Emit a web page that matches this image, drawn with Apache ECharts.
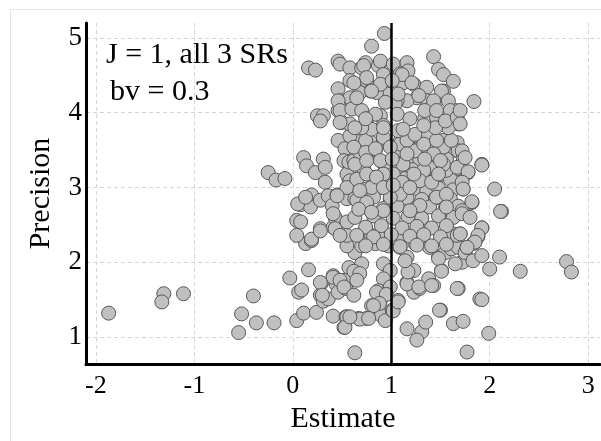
<!DOCTYPE html>
<html>
<head>
<meta charset="utf-8">
<script src="https://cdn.jsdelivr.net/npm/echarts@6/dist/echarts.min.js"></script>
<style>html,body{margin:0;padding:0;background:#fff;}#c{width:601px;height:441px;}</style>
</head>
<body>
<div id="c"></div>
<script>
// Tick labels
const xTicks = [-2, -1, 0, 1, 2, 3];
const yTicks = [1, 2, 3, 4, 5];
const trueEffect = 1;
const annotationLines = ['J = 1, all 3 SRs', 'bv = 0.3'];

// [estimate, precision] pairs
const leftTail = [
  [-1.87,1.32],[-1.31,1.58],[-1.33,1.47],[-1.11,1.58],[-0.40,1.55],[-0.52,1.31],[-0.37,1.19],
  [-0.55,1.06],[-0.19,1.19],[-0.25,3.20],[-0.17,3.10],[-0.08,3.12],[-0.03,1.79]
];
const lowBand = [
  [0.06,1.60],[0.09,1.63],[0.04,1.22],[0.11,1.32],[0.16,1.90],[0.24,1.33],[0.29,1.72],[0.28,1.56],
  [0.31,1.48],[0.36,1.51],[0.41,1.82],[0.44,1.71],[0.46,1.60],[0.52,1.76],[0.54,1.65],[0.41,1.28],
  [0.54,1.27],[0.52,1.13],[0.63,0.79],[0.57,1.93],[0.63,2.13],[0.70,2.22],[0.84,2.25],[0.97,2.22],
  [1.09,2.20],[0.70,1.98],[0.62,1.88],[0.68,1.85],[0.41,1.80],[0.28,1.73],[0.48,1.76],[0.52,1.67],
  [0.30,1.56],[0.62,1.56],[0.55,1.27],[0.53,1.13],[0.67,1.25],[0.75,1.25],[0.80,1.42],[0.89,1.49],
  [0.92,1.98],[0.99,1.89],[0.92,1.78],[0.87,1.62],[0.94,1.58],[0.90,1.29],[0.94,1.22],[1.01,1.36],
  [1.07,1.49],[0.99,1.67],[1.16,2.07],[1.23,1.89],[1.16,1.73],[1.23,1.60],[1.29,1.65],[1.38,1.78],
  [1.43,1.69],[1.16,1.11],[1.31,1.07],[1.26,0.96],[1.35,1.20],[1.50,1.36],[1.51,1.89],[1.48,2.07],
  [1.55,2.13],[1.61,2.18],[1.68,2.20],[1.72,2.00],[1.75,2.13],[1.83,2.02],[1.92,2.09],[2.00,1.91],
  [2.10,2.07],[2.31,1.88],[2.78,2.01],[2.83,1.87],[1.68,1.65],[1.63,1.18],[1.73,1.21],[1.90,1.51],
  [1.92,1.50],[1.99,1.05],[1.77,0.80],[1.24,2.25],[1.39,2.20],[1.77,2.20],[0.65,1.76],[0.85,1.60],
  [0.95,1.57],[0.88,1.45],[0.82,1.42],[1.02,1.35],[1.07,1.47],[1.16,1.71],[1.28,1.67],[1.41,1.69],
  [1.17,1.87],[1.14,2.02],[1.48,2.05],[1.51,1.88],[1.65,1.98],[1.67,1.65],[1.49,1.36],[0.68,1.24],
  [0.77,1.25],[0.58,1.27],[0.13,2.25],[0.19,2.29],[0.55,2.22],[1.85,2.27],
  [0.19,2.31],[0.28,2.45],[0.41,2.47],[0.48,2.45],[0.55,2.36],[0.70,2.38],[0.80,2.36],[0.92,2.36],
  [1.02,2.34],[1.11,2.36],[1.63,2.38],[1.70,2.38],[1.83,2.25],[1.88,2.34],[1.92,2.46],[1.31,2.40]
];
const leftMid = [
  [0.11,3.40],[0.14,3.29],[0.23,3.20],[0.31,3.38],[0.33,3.27],[0.33,3.07],[0.46,3.63],[0.53,3.52],
  [0.57,3.11],[0.19,2.90],[0.08,2.77],[0.18,2.74],[0.28,2.83],[0.36,2.89],[0.45,2.90],[0.40,2.76],
  [0.55,2.85],[0.04,2.56],[0.04,2.36],[0.28,2.42],[0.43,2.60],[0.43,2.45],[0.48,2.36],[0.55,2.54],
  [0.08,2.54],[0.05,2.78],[0.13,2.87],[0.41,2.65],[0.52,3.36],[0.55,3.18],[0.57,3.34],[0.58,3.09],
  [0.55,3.00]
];
const core = [
  [0.63,3.63],[0.79,3.61],[0.92,3.64],[1.09,3.62],[1.24,3.65],[1.39,3.61],[1.53,3.63],[1.67,3.60],
  [0.68,3.49],[0.84,3.51],[1.06,3.48],[1.21,3.50],[1.34,3.47],[1.48,3.50],[1.60,3.48],
  [0.62,3.36],[0.75,3.38],[0.90,3.35],[1.02,3.37],[1.17,3.34],[1.29,3.37],[1.43,3.35],[1.56,3.38],
  [0.72,3.25],[0.94,3.23],[1.07,3.26],[1.21,3.24],[1.39,3.26],[1.53,3.23],[1.67,3.25],
  [0.65,3.11],[0.82,3.13],[0.99,3.10],[1.14,3.12],[1.29,3.10],[1.46,3.13],[1.60,3.11],
  [0.75,2.98],[0.90,3.00],[1.09,2.97],[1.24,2.99],[1.36,2.96],[1.48,2.99],[1.63,2.97],
  [0.63,2.85],[0.82,2.87],[0.99,2.84],[1.16,2.86],[1.31,2.84],[1.45,2.86],[1.60,2.85],
  [0.72,2.74],[0.92,2.72],[1.06,2.75],[1.26,2.73],[1.39,2.74],[1.55,2.72],[1.68,2.75],
  [0.63,2.60],[0.82,2.62],[1.02,2.59],[1.17,2.61],[1.31,2.59],[1.48,2.62],[1.63,2.60],
  [0.74,2.47],[0.90,2.49],[1.11,2.46],[1.26,2.48],[1.41,2.46],[1.56,2.49],
  [0.65,2.36],[0.82,2.34],[1.00,2.37],[1.19,2.35],[1.33,2.37],[1.50,2.34],[1.67,2.36],
  [0.74,2.22],[0.92,2.24],[1.09,2.21],[1.26,2.23],[1.41,2.22],[1.56,2.24]
];
const midBand = [
  [0.45,2.89],[0.65,2.83],[0.75,2.80],[0.68,3.47],[0.58,3.69],[0.74,3.63],[0.92,3.67],[1.09,3.58],
  [1.24,3.69],[1.36,3.69],[1.53,3.54],[1.68,3.49],[1.73,3.40],[1.92,3.31],[1.78,3.20],[2.05,2.98],
  [2.12,2.68],[1.82,2.80],[1.73,2.98],[1.56,3.23],[1.53,3.31],[1.43,3.45],[1.33,3.23],[1.24,3.49],
  [1.12,3.31],[1.02,3.18],[0.92,3.18],[0.80,3.00],[1.11,3.07],[1.29,3.09],[1.41,3.07],[1.46,2.87],
  [1.56,2.91],[1.72,2.69],[1.56,2.74],[1.29,2.76],[1.19,2.69],[1.09,2.91],[0.99,2.87],[0.92,2.69],
  [0.67,2.71],[0.80,2.67],[0.62,3.54],[0.74,3.47],[0.84,3.52],[0.99,3.54],[1.16,3.63],[1.33,3.58],
  [1.46,3.63],[1.61,3.63],[0.63,3.31],[0.75,3.36],[0.89,3.36],[1.01,3.38],[1.16,3.45],[1.34,3.38],
  [1.50,3.36],[1.67,3.27],[0.75,3.18],[0.85,3.14],[1.23,3.18],[1.48,3.18],[0.92,3.00],[1.02,3.03],
  [1.19,3.00],[0.68,2.96]
];
const rightEdge = [
  [1.72,3.49],[1.75,3.40],[1.92,3.30],[1.78,3.21],[1.72,3.07],[1.73,2.98],[1.82,2.81],[1.72,2.65],
  [1.80,2.60],[2.11,2.68],[1.92,2.46],[1.88,2.36],[1.85,2.27],[1.70,2.38],[1.77,2.20]
];
const upper = [
  [0.93,5.06],[0.80,4.89],[0.16,4.60],[0.23,4.57],[0.46,4.69],[0.48,4.65],[0.58,4.60],[0.70,4.60],
  [0.74,4.67],[0.87,4.63],[0.89,4.69],[1.02,4.65],[1.16,4.67],[1.17,4.56],[1.43,4.75],[1.48,4.58],
  [1.53,4.51],[1.63,4.42],[1.84,4.15],[0.58,4.43],[0.46,4.32],[0.25,3.96],[0.31,3.96],[0.28,3.89],
  [0.46,4.03],[0.50,3.87],[0.48,4.16],[0.75,4.43],[0.89,4.36],[0.99,4.43],[1.09,4.52],[1.12,4.40],
  [1.23,4.38],[1.36,4.34],[1.53,4.29],[1.46,4.16],[1.36,4.16],[1.26,4.20],[1.16,4.16],[1.06,4.16],
  [0.96,4.25],[0.85,4.27],[0.79,4.29],[0.68,4.27],[0.58,4.20],[0.46,4.16],[0.48,4.03],[0.60,4.05],
  [0.70,4.03],[0.75,3.92],[0.89,3.96],[1.04,4.12],[1.06,3.98],[1.19,3.92],[1.34,3.92],[1.46,3.94],
  [1.56,3.96],[1.65,4.03],[1.68,3.85],[1.58,3.80],[1.45,3.80],[1.24,3.71],[1.07,3.76],[0.92,3.83],
  [0.80,3.78],[0.70,3.80],[0.58,3.85],[0.48,3.87],[0.72,4.63],[0.92,4.51],[1.11,4.51],[0.75,4.47],
  [0.62,4.40],[0.89,4.38],[1.01,4.43],[1.21,4.40],[1.51,4.29],[1.28,4.23],[1.07,4.25],[0.80,4.29],
  [0.65,4.20],[0.94,4.14],[1.43,4.16],[1.58,4.16],[1.34,4.03],[1.46,4.03],[1.60,4.03],[0.84,3.98],
  [0.74,3.92],[1.55,3.89],[1.67,3.94],[1.33,3.83],[0.92,3.80],[1.12,3.78],[0.63,3.80],[1.70,4.03],
  [1.70,3.85]
];

const points = [].concat(leftTail, lowBand, leftMid, core, midBand, rightEdge, upper);

const serif = 'Liberation Serif, Times New Roman, serif';
const chart = echarts.init(document.getElementById('c'), null, {renderer: 'canvas'});
chart.setOption({
  animation: false,
  backgroundColor: '#ffffff',
  grid: {left: 86, right: 1, top: 23, bottom: 77, containLabel: false},
  xAxis: {
    type: 'value', min: -2.1, max: 3.12,
    name: 'Estimate', nameLocation: 'middle', nameGap: 25,
    nameTextStyle: {fontFamily: serif, fontSize: 30, color: '#000'},
    axisLine: {show: true, onZero: false, lineStyle: {color: '#000', width: 3}},
    axisTick: {show: false, customValues: xTicks},
    axisLabel: {customValues: xTicks, fontFamily: serif, fontSize: 26, color: '#000', margin: 9},
    splitLine: {show: true, lineStyle: {color: '#d6d6d6', type: [4, 3], width: 1}}
  },
  yAxis: {
    type: 'value', min: 0.64, max: 5.2,
    name: 'Precision', nameLocation: 'middle', nameGap: 30,
    nameTextStyle: {fontFamily: serif, fontSize: 30, color: '#000'},
    axisLine: {show: true, onZero: false, lineStyle: {color: '#000', width: 3}},
    axisTick: {show: false, customValues: yTicks},
    axisLabel: {customValues: yTicks, fontFamily: serif, fontSize: 27, color: '#000', margin: 4},
    splitLine: {show: true, lineStyle: {color: '#d6d6d6', type: [4, 3], width: 1}}
  },
  graphic: [
    {type: 'rect', left: 8, top: 7, z: -10, silent: true,
     shape: {width: 620, height: 460}, style: {fill: 'none', stroke: '#dfe7e8', lineWidth: 1}},
    {type: 'text', left: 106, top: 40, z: 100,
     style: {text: annotationLines[0], font: '30px ' + serif, fill: '#000'}},
    {type: 'text', left: 110, top: 77, z: 100,
     style: {text: annotationLines[1], font: '30px ' + serif, fill: '#000'}}
  ],
  series: [{
    type: 'scatter',
    data: points,
    symbol: 'circle',
    symbolSize: 14,
    itemStyle: {color: '#c0c0c0', borderColor: '#585858', borderWidth: 1, opacity: 1},
    markLine: {
      silent: true, symbol: ['none', 'none'], label: {show: false},
      lineStyle: {color: '#000', width: 2.5, type: 'solid'},
      data: [{xAxis: trueEffect}]
    }
  }]
});
</script>
</body>
</html>
